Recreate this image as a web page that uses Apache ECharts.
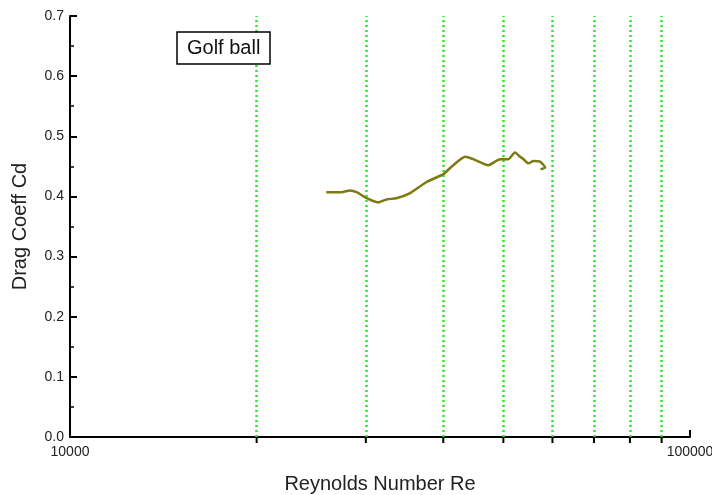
<!DOCTYPE html>
<html>
<head>
<meta charset="utf-8">
<script src="https://cdn.jsdelivr.net/npm/echarts@6/dist/echarts.min.js"></script>
<style>
  html, body { margin: 0; padding: 0; background: #fff; }
  #chart { width: 712px; height: 495px; }
</style>
</head>
<body>
<div id="chart"></div>
<script>
  // Re values
  var reynolds = [25900, 27400, 28300, 29000, 30100, 31400, 32400, 33600, 35300, 37600,
    40000, 41500, 43400, 44700, 47300, 49400, 50900, 52200, 53200, 53900,
    54900, 55900, 57300, 58400, 57400];
  var dragCd = [0.407, 0.407, 0.410, 0.407, 0.397, 0.390, 0.395, 0.397, 0.405, 0.424,
    0.437, 0.452, 0.466, 0.462, 0.452, 0.462, 0.462, 0.473, 0.466, 0.462,
    0.455, 0.459, 0.458, 0.448, 0.445];
  // dotted green lines (log minor grid)
  var gridRe = [20000, 30000, 40000, 50000, 60000, 70000, 80000, 90000];
  var yTicks = [0, 0.1, 0.2, 0.3, 0.4, 0.5, 0.6, 0.7];

  var chart = echarts.init(document.getElementById('chart'));
  var font = 'Liberation Sans, Arial, sans-serif';

  chart.setOption({
    animation: false,
    title: {
      text: 'Golf ball',
      left: 177,
      top: 32,
      z: 20,
      backgroundColor: '#fff',
      borderColor: '#000',
      borderWidth: 1.5,
      padding: [6, 10, 6, 10],
      textStyle: { fontFamily: font, fontSize: 20, fontWeight: 'normal', color: '#111' }
    },
    grid: { left: 70, right: 22, top: 16, bottom: 58, containLabel: false, outerBoundsMode: 'none' },
    xAxis: {
      type: 'log',
      logBase: 10,
      min: 10000,
      max: 100000,
      name: 'Reynolds Number Re',
      nameLocation: 'middle',
      nameGap: 37,
      nameTextStyle: { fontFamily: font, fontSize: 20, color: '#222' },
      axisLine: { lineStyle: { color: '#000', width: 2 } },
      axisTick: { show: false },
      splitLine: { show: false },
      axisLabel: {
        fontFamily: font, fontSize: 14, color: '#222', margin: 8,
        formatter: function (v) { return String(Math.round(v)); }
      }
    },
    yAxis: {
      type: 'value',
      min: yTicks[0],
      max: yTicks[yTicks.length - 1],
      interval: 0.1,
      name: 'Drag Coeff Cd',
      nameLocation: 'middle',
      nameGap: 40,
      nameTextStyle: { fontFamily: font, fontSize: 20, color: '#222' },
      axisLine: { show: true, lineStyle: { color: '#000', width: 2 } },
      axisTick: { show: true, inside: true, length: 7, lineStyle: { color: '#000', width: 2 } },
      minorTick: { show: true, splitNumber: 2, length: 4, lineStyle: { color: '#000', width: 1.5 } },
      splitLine: { show: false },
      axisLabel: {
        fontFamily: font, fontSize: 14, color: '#222', margin: 6,
        formatter: function (v) { return v.toFixed(1); }
      }
    },
    series: [
      {
        type: 'line',
        data: reynolds.map(function (r, i) { return [r, dragCd[i]]; }),
        showSymbol: false,
        smooth: 0.2,
        lineStyle: { color: '#7d7a12', width: 2.5 },
        z: 5,
        markLine: {
          silent: true,
          symbol: 'none',
          label: { show: false },
          lineStyle: { color: '#2ee62e', type: [2, 3], width: 2.5 },
          data: gridRe.map(function (r) { return { xAxis: r }; })
        }
      },
      {
        // small ticks below the x axis at each grid line
        type: 'custom',
        silent: true,
        data: gridRe.map(function (r) { return [r, 0]; }),
        renderItem: function (params, api) {
          var p = api.coord([api.value(0), 0]);
          return {
            type: 'line',
            shape: { x1: p[0], y1: p[1], x2: p[0], y2: p[1] + 6 },
            style: { stroke: '#000', lineWidth: 2 }
          };
        }
      },
      {
        // end tick at 100000
        type: 'custom',
        silent: true,
        data: [[100000, 0]],
        renderItem: function (params, api) {
          var p = api.coord([api.value(0), 0]);
          return {
            type: 'line',
            shape: { x1: p[0], y1: p[1], x2: p[0], y2: p[1] - 7 },
            style: { stroke: '#000', lineWidth: 2 }
          };
        }
      }
    ]
  });
</script>
</body>
</html>
